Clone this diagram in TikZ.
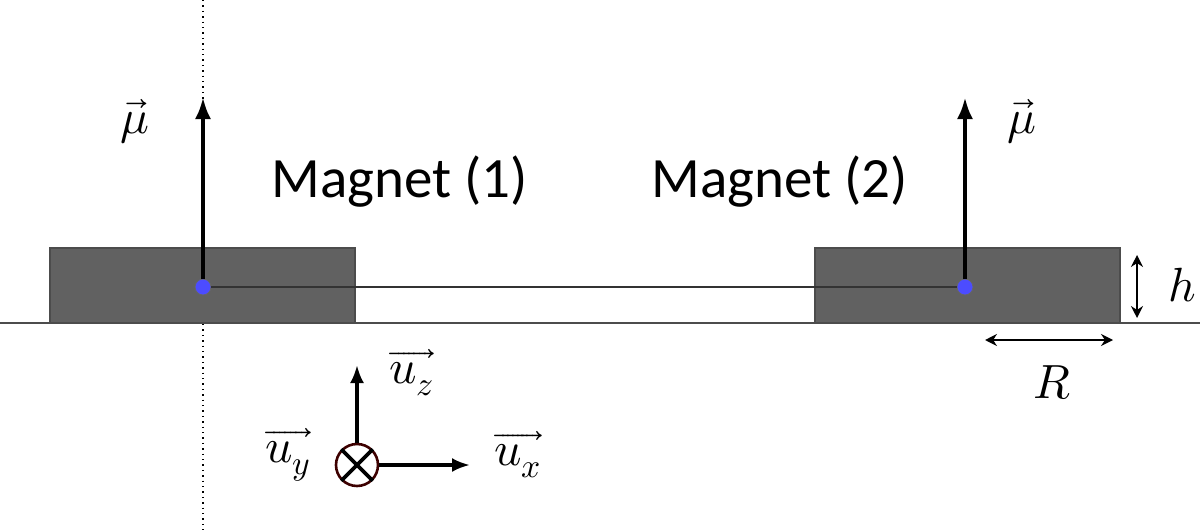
\documentclass[tikz,border=0pt]{standalone}
\usetikzlibrary{arrows.meta}
\usepackage{fontspec}
\setmainfont{Carlito}
\usepackage{unicode-math}
\begin{document}
\begin{tikzpicture}[x=0.5pt,y=-0.5pt,
  mag/.style={fill=black!62,draw=black!70,line width=0.6pt},
  mu/.style={-{Latex[length=11pt,width=8pt]},line width=2.3pt},
  dot/.style={circle,fill=blue!70!white,draw=black!60,inner sep=0pt,minimum size=8pt},
  lab/.style={font=\fontsize{28.5}{32}\selectfont},
  ml/.style={font=\fontsize{24}{28}\selectfont},
  dbl/.style={{Stealth[length=6pt,width=6pt]}-{Stealth[length=6pt,width=6pt]},line width=0.7pt}]
\useasboundingbox (0,0) rectangle (1200,530);
\draw[dotted,line width=0.7pt] (203,0) -- (203,530);
\draw[line width=1pt,black!70] (0,323) -- (1200,323);
\draw[mag] (50,248) rectangle (355,323);
\draw[mag] (815,248) rectangle (1120,323);
\node[dot] (d1) at (203,287) {};
\node[dot] (d2) at (965,287) {};
\draw[line width=1pt,black!80] (d1) -- (d2);
\coordinate (t1) at (203,97); \coordinate (t2) at (965,97);
\draw[mu] (d1) -- (t1);
\draw[mu] (d2) -- (t2);
\node[ml] (m1) at (135,122) {$\vec{\mu}$};
\node[ml] (m2) at (1022,122) {$\vec{\mu}$};
\node[lab] (n1) at (400,182) {Magnet (1)};
\node[lab] (n2) at (780,182) {Magnet (2)};
\coordinate (h1) at (1137,255); \coordinate (h2) at (1137,318);
\draw[dbl] (h1) -- (h2);
\node[ml] (h) at (1182,285) {$h$};
\coordinate (r1) at (985,340); \coordinate (r2) at (1113,340);
\draw[dbl] (r1) -- (r2);
\node[ml] (R) at (1052,383) {$R$};
\node[circle,draw=black!60!red!60!black,line width=1.3pt,minimum size=21pt,inner sep=0pt] (o) at (357,465) {};
\draw[line width=1.8pt] (o.north west) -- (o.south east) (o.north east) -- (o.south west);
\coordinate (z) at (357,365); \coordinate (x) at (470,465);
\draw[-{Latex[length=9pt,width=7pt]},line width=1.7pt] (o.north) -- (z);
\draw[-{Latex[length=9pt,width=7pt]},line width=1.7pt] (o.east) -- (x);
\node[ml] (uz) at (412,373) {$\overrightarrow{u_z}$};
\node[ml] (uy) at (288,455) {$\overrightarrow{u_y}$};
\node[ml] (ux) at (518,455) {$\overrightarrow{u_x}$};
\end{tikzpicture}
\end{document}
